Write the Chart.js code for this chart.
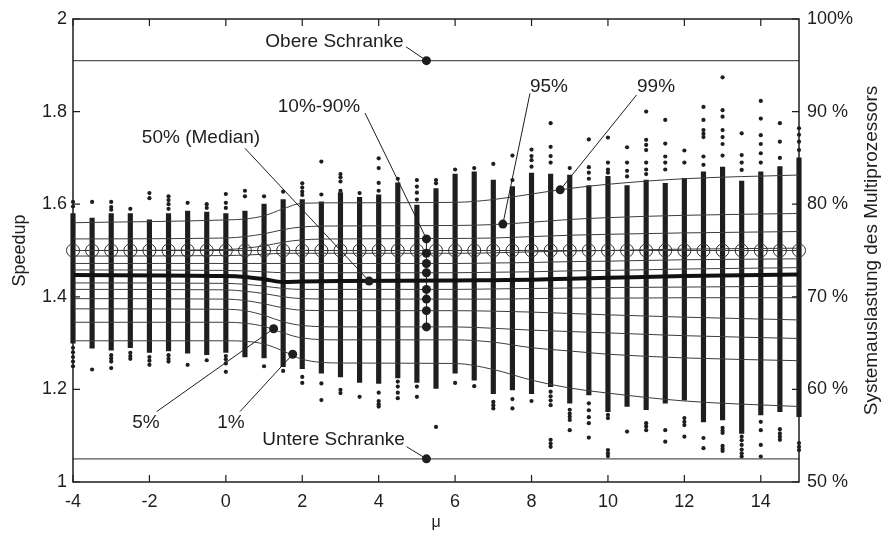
<!DOCTYPE html>
<html><head><meta charset="utf-8">
<script src="https://cdn.jsdelivr.net/npm/chart.js@4.4.1/dist/chart.umd.min.js"></script>
<style>html,body{margin:0;padding:0;background:#fff}</style>
</head><body>
<canvas id="c" width="881" height="533" style="display:block;width:881px;height:533px"></canvas>
<script>
// ---------- DATA ----------
const colX = [-4,-3.5,-3,-2.5,-2,-1.5,-1,-0.5,0,0.5,1,1.5,2,2.5,3,3.5,4,4.5,5,5.5,6,6.5,7,7.5,8,8.5,9,9.5,10,10.5,11,11.5,12,12.5,13,13.5,14,14.5,15];
const colHi = [1.58,1.57,1.58,1.58,1.566,1.58,1.585,1.583,1.58,1.585,1.60,1.61,1.61,1.605,1.625,1.615,1.62,1.646,1.598,1.634,1.665,1.67,1.652,1.638,1.667,1.665,1.663,1.64,1.66,1.64,1.652,1.645,1.656,1.67,1.68,1.65,1.67,1.681,1.70];
const colLo = [1.30,1.289,1.285,1.29,1.28,1.283,1.278,1.275,1.28,1.27,1.268,1.249,1.245,1.235,1.227,1.215,1.213,1.225,1.215,1.202,1.235,1.22,1.191,1.199,1.191,1.206,1.17,1.188,1.152,1.163,1.156,1.17,1.177,1.13,1.134,1.105,1.145,1.152,1.141];
const colOutliers = [
  [1.605,1.595,1.29,1.28,1.27,1.26,1.25],
  [1.605,1.243],
  [1.605,1.594,1.588,1.274,1.267,1.26,1.246],
  [1.59,1.279,1.272,1.266],
  [1.624,1.613,1.27,1.262,1.253],
  [1.617,1.609,1.6,1.59,1.274,1.266,1.26],
  [1.603,1.253],
  [1.6,1.592,1.263],
  [1.622,1.603,1.592,1.272,1.265,1.256,1.238],
  [1.629,1.617],
  [1.617,1.25],
  [1.627,1.24],
  [1.645,1.636,1.627,1.62,1.227,1.214],
  [1.692,1.621,1.213,1.177],
  [1.665,1.658,1.649,1.629,1.199,1.192],
  [1.624,1.184],
  [1.699,1.678,1.646,1.629,1.193,1.175,1.168,1.163],
  [1.655,1.217,1.206,1.193,1.181],
  [1.652,1.638,1.625,1.61,1.206,1.184],
  [1.652,1.645,1.119],
  [1.675,1.214],
  [1.678,1.207],
  [1.687,1.173,1.166,1.159],
  [1.705,1.652,1.179,1.159],
  [1.718,1.704,1.695,1.681,1.175],
  [1.775,1.724,1.704,1.69,1.195,1.185,1.176,1.166,1.091,1.083,1.076],
  [1.678,1.156,1.148,1.141,1.134,1.112],
  [1.74,1.68,1.668,1.655,1.17,1.155,1.14,1.127,1.096],
  [1.744,1.69,1.675,1.668,1.145,1.138,1.069,1.062,1.056],
  [1.723,1.69,1.672,1.66,1.109],
  [1.80,1.739,1.728,1.717,1.69,1.675,1.665,1.127,1.12,1.112],
  [1.782,1.731,1.703,1.69,1.675,1.112,1.087],
  [1.716,1.69,1.138,1.13,1.123,1.098],
  [1.81,1.782,1.76,1.752,1.745,1.703,1.685,1.095,1.073],
  [1.874,1.803,1.789,1.76,1.745,1.73,1.705,1.117,1.111,1.106,1.078,1.072,1.067],
  [1.753,1.706,1.69,1.674,1.098,1.09,1.08,1.07,1.062,1.055],
  [1.823,1.785,1.749,1.73,1.71,1.69,1.13,1.112,1.08,1.055],
  [1.775,1.735,1.70,1.114,1.105,1.098,1.091],
  [1.764,1.75,1.735,1.717,1.084,1.076,1.069]
];
const pctKnots = [-4,0,0.5,1,1.5,2,3,6,7,8,9,10,12,15];
const p99 = [1.560,1.566,1.568,1.575,1.590,1.602,1.603,1.604,1.610,1.622,1.634,1.643,1.655,1.663];
const p95 = [1.525,1.527,1.530,1.536,1.545,1.551,1.553,1.554,1.556,1.561,1.567,1.571,1.576,1.580];
const p90 = [1.500,1.502,1.505,1.510,1.518,1.523,1.525,1.526,1.527,1.530,1.533,1.535,1.538,1.541];
const p80 = [1.488,1.489,1.490,1.492,1.494,1.494,1.494,1.494,1.495,1.497,1.499,1.500,1.503,1.505];
const p70 = [1.472,1.472,1.472,1.472,1.472,1.472,1.472,1.472,1.473,1.474,1.476,1.477,1.480,1.482];
const p60 = [1.458,1.457,1.456,1.454,1.452,1.452,1.452,1.452,1.453,1.454,1.456,1.457,1.460,1.463];
const p50 = [1.447,1.445,1.443,1.438,1.432,1.433,1.434,1.435,1.436,1.437,1.439,1.441,1.445,1.448];
const p40 = [1.430,1.429,1.427,1.423,1.418,1.416,1.416,1.416,1.417,1.418,1.419,1.420,1.421,1.423];
const p30 = [1.416,1.415,1.412,1.407,1.400,1.396,1.395,1.395,1.395,1.396,1.397,1.397,1.398,1.398];
const p20 = [1.396,1.395,1.392,1.385,1.376,1.371,1.370,1.370,1.369,1.367,1.364,1.361,1.356,1.350];
const p10 = [1.374,1.373,1.370,1.360,1.346,1.338,1.335,1.335,1.332,1.328,1.325,1.322,1.316,1.310];
const p5  = [1.345,1.345,1.343,1.336,1.322,1.311,1.307,1.307,1.302,1.290,1.283,1.276,1.268,1.262];
const p1  = [1.305,1.305,1.304,1.298,1.283,1.265,1.257,1.256,1.243,1.220,1.203,1.192,1.175,1.163];
const circleLevel = 1.5;
const upperBound = 1.91;
const lowerBound = 1.05;
const xTickValues = [-4,-2,0,2,4,6,8,10,12,14];
const xTickLabels = ["-4","-2","0","2","4","6","8","10","12","14"];
const yTickValues = [1,1.2,1.4,1.6,1.8,2];
const yTickLabels = ["1","1.2","1.4","1.6","1.8","2"];
const y2TickValues = [50,60,70,80,90,100];
const y2TickLabels = ["50 %","60 %","70 %","80 %","90 %","100%"];
const annotTexts = ["Obere Schranke","10%-90%","95%","99%","50% (Median)","5%","1%","Untere Schranke"];
const annotMarkerX = [5.25,5.25,7.25,8.75,3.75,1.25,1.75,5.25];
const annotMarkerY = [[1.91],[1.525,1.494,1.472,1.452,1.416,1.395,1.370,1.335],[1.557],[1.631],[1.434],[1.331],[1.276],[1.05]];

// ---------- LAYOUT (label anchors in axis units) ----------
const annotLayout = [
  {tx:2.844, ty:1.9395, lx:4.715, ly:1.940},
  {tx:2.438, ty:1.799,  lx:3.642, ly:1.797},
  {tx:8.457, ty:1.842,  lx:7.96,  ly:1.8395},
  {tx:11.258,ty:1.842,  lx:10.75, ly:1.836},
  {tx:-0.65, ty:1.732,  lx:0.501, ly:1.7207},
  {tx:-2.09, ty:1.1166, lx:-1.81, ly:1.152},
  {tx:0.135, ty:1.1166, lx:0.37,  ly:1.152},
  {tx:2.818, ty:1.080,  lx:4.73,  ly:1.0763}
];

const FONT = "'Liberation Sans', Arial, Helvetica, sans-serif";
const INK = '#1e1e1e';

const pctSets = [p99,p95,p90,p80,p70,p60,p40,p30,p20,p10,p5,p1];
const pctDatasets = pctSets.map(arr => ({
  type:'line', data: pctKnots.map((x,i)=>({x, y:arr[i]})),
  borderColor:'#3c3c3c', borderWidth:1, pointRadius:0, cubicInterpolationMode:'monotone', order:5
}));

const outlierData = [];
colX.forEach((x,i)=>colOutliers[i].forEach(v=>outlierData.push({x, y:v})));

const deco = {
  id:'deco',
  afterDatasetsDraw(chart){
    const {ctx, chartArea:a, scales:{x,y,y2}} = chart;
    ctx.save();
    // annotations
    ctx.strokeStyle = INK; ctx.fillStyle = INK; ctx.lineWidth = 1;
    annotTexts.forEach((t,i)=>{
      const L = annotLayout[i];
      const mx = x.getPixelForValue(annotMarkerX[i]);
      const ys = annotMarkerY[i].map(v=>y.getPixelForValue(v));
      ctx.beginPath();
      ctx.moveTo(x.getPixelForValue(L.lx), y.getPixelForValue(L.ly));
      ctx.lineTo(mx, ys[0]);
      if (ys.length>1){ ctx.moveTo(mx, ys[0]); ctx.lineTo(mx, ys[ys.length-1]); }
      ctx.stroke();
      ys.forEach(py=>{ ctx.beginPath(); ctx.arc(mx, py, 4.5, 0, Math.PI*2); ctx.fill(); });
      ctx.font = '19px ' + FONT;
      ctx.textAlign = 'center'; ctx.textBaseline = 'alphabetic';
      ctx.fillText(t, x.getPixelForValue(L.tx), y.getPixelForValue(L.ty));
    });
    // frame and inward ticks
    ctx.strokeStyle = INK; ctx.lineWidth = 1.5;
    ctx.strokeRect(a.left, a.top, a.right-a.left, a.bottom-a.top);
    ctx.lineWidth = 1.2;
    ctx.beginPath();
    xTickValues.forEach(v=>{ const px=x.getPixelForValue(v); ctx.moveTo(px,a.bottom); ctx.lineTo(px,a.bottom-7); ctx.moveTo(px,a.top); ctx.lineTo(px,a.top+7); });
    yTickValues.forEach(v=>{ const py=y.getPixelForValue(v); ctx.moveTo(a.left,py); ctx.lineTo(a.left+7,py); });
    y2TickValues.forEach(v=>{ const py=y2.getPixelForValue(v); ctx.moveTo(a.right,py); ctx.lineTo(a.right-7,py); });
    ctx.stroke();
    // axis titles
    ctx.fillStyle = INK; ctx.textAlign='center'; ctx.textBaseline='alphabetic';
    const midY = (a.top+a.bottom)/2;
    ctx.font = '18px ' + FONT;
    ctx.save(); ctx.translate(25, midY); ctx.rotate(-Math.PI/2); ctx.fillText('Speedup',0,0); ctx.restore();
    ctx.font = '19px ' + FONT;
    ctx.save(); ctx.translate(877, midY); ctx.rotate(-Math.PI/2); ctx.fillText('Systemauslastung des Multiprozessors',0,0); ctx.restore();
    ctx.font = '16px ' + FONT;
    ctx.fillText('\u03BC', (a.left+a.right)/2, 527);
    ctx.restore();
  }
};

new Chart(document.getElementById('c'), {
  type:'bar',
  data:{ datasets:[
    {type:'bar', data: colX.map((x,i)=>({x, y:[colLo[i], colHi[i]]})), backgroundColor:INK, borderWidth:0, barThickness:4.5, clip:false, order:10},
    {type:'scatter', data: outlierData, pointRadius:2.1, pointBackgroundColor:INK, pointBorderWidth:0, clip:false, order:9},
    ...pctDatasets,
    {type:'line', data: pctKnots.map((x,i)=>({x, y:p50[i]})), borderColor:'#111', borderWidth:4, pointRadius:0, cubicInterpolationMode:'monotone', order:4},
    {type:'line', data: colX.map(x=>({x, y:circleLevel})), borderColor:'#3c3c3c', borderWidth:1, pointRadius:6.5, pointStyle:'circle', pointBorderColor:'#333', pointBorderWidth:1, pointBackgroundColor:'rgba(0,0,0,0)', clip:false, order:3},
    {type:'line', data:[{x:-4,y:upperBound},{x:15,y:upperBound}], borderColor:'#555', borderWidth:1.2, pointRadius:0, order:6},
    {type:'line', data:[{x:-4,y:lowerBound},{x:15,y:lowerBound}], borderColor:'#555', borderWidth:1.2, pointRadius:0, order:6}
  ]},
  options:{
    responsive:false, animation:false, devicePixelRatio:1, events:[],
    layout:{padding:{top:19,left:0,right:0,bottom:0}},
    plugins:{legend:{display:false}, tooltip:{enabled:false}},
    scales:{
      x:{type:'linear', min:-4, max:15, offset:false,
         grid:{display:false, drawTicks:false}, border:{display:false},
         afterBuildTicks:s=>{ s.ticks = xTickValues.map(v=>({value:v})); },
         afterFit:s=>{ s.height = 51; },
         ticks:{font:{family:FONT,size:18}, color:INK, padding:9, maxRotation:0, autoSkip:false,
                callback:(v,i)=>xTickLabels[i]}},
      y:{type:'linear', position:'left', min:1, max:2,
         grid:{display:false, drawTicks:false}, border:{display:false},
         afterBuildTicks:s=>{ s.ticks = yTickValues.map(v=>({value:v})); },
         afterFit:s=>{ s.width = 73; },
         ticks:{font:{family:FONT,size:18}, color:INK, padding:6, autoSkip:false,
                callback:(v,i)=>yTickLabels[i]}},
      y2:{type:'linear', position:'right', min:50, max:100,
         grid:{display:false, drawTicks:false}, border:{display:false},
         afterBuildTicks:s=>{ s.ticks = y2TickValues.map(v=>({value:v})); },
         afterFit:s=>{ s.width = 82; },
         ticks:{font:{family:FONT,size:18}, color:INK, padding:8, autoSkip:false,
                callback:(v,i)=>y2TickLabels[i]}}
    }
  },
  plugins:[deco]
});
</script>
</body></html>
